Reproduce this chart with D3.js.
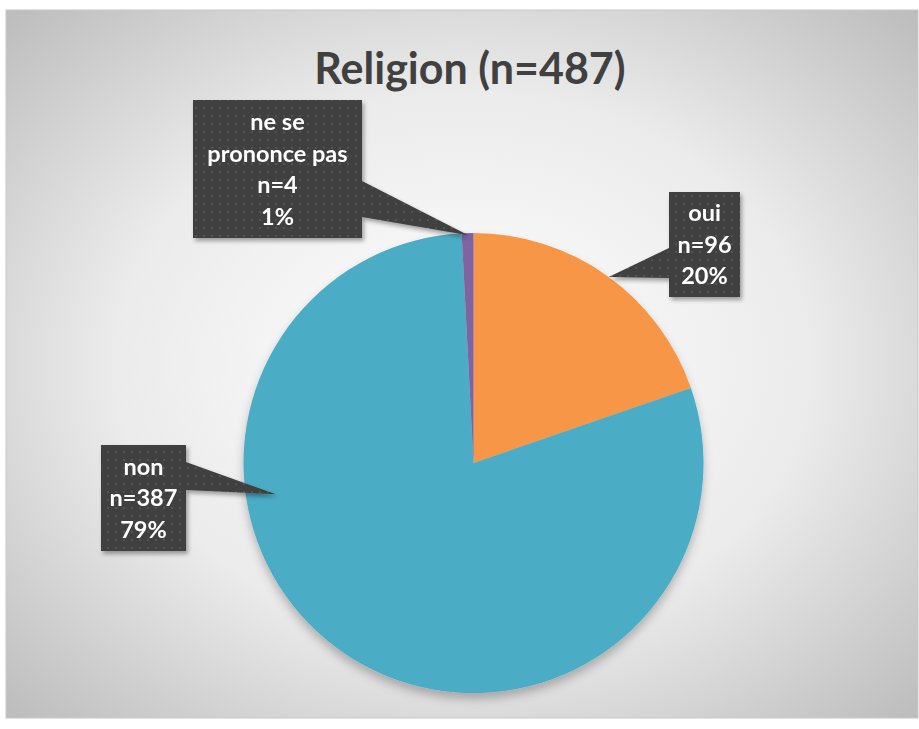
<!DOCTYPE html>
<html>
<head>
<meta charset="utf-8">
<script src="https://cdn.jsdelivr.net/npm/d3@7"></script>
<style>
  body { margin: 0; background: #fff; }
  svg { display: block; }
  text { font-family: Lato, "Open Sans", sans-serif; font-weight: bold; }
</style>
</head>
<body>
<svg width="919" height="729"></svg>
<script>
var title = "Religion (n=487)";
var categories = ["oui", "non", "ne se prononce pas"];
var counts = [96, 387, 4];
var percents = ["20%", "79%", "1%"];
var colors = ["#F79646", "#4BACC6", "#8064A2"];

// callout layout: box rect, pointer base on a box side, tip angle (deg) / radius fraction
var callouts = [
  { box: [669, 192, 71, 105], side: "left", base: [248, 278], tipAngle: 36, tipR: 1.0, lines: ["oui", "n=96", "20%"] },
  { box: [101, 445, 85, 106], side: "right", base: [462, 490], tipAngle: 261, tipR: 0.87, lines: ["non", "n=387", "79%"] },
  { box: [193, 100, 169, 138], side: "right", base: [181, 217], tipAngle: 358.7, tipR: 0.99, lines: ["ne se", "prononce pas", "n=4", "1%"] }
];

var svg = d3.select("svg"),
    width = +svg.attr("width"),
    height = +svg.attr("height");

var defs = svg.append("defs");

var bg = defs.append("radialGradient").attr("id", "bg")
    .attr("cx", "50%").attr("cy", "50%").attr("r", "70%");
bg.append("stop").attr("offset", "0%").attr("stop-color", "#ffffff");
bg.append("stop").attr("offset", "55%").attr("stop-color", "#ebebeb");
bg.append("stop").attr("offset", "100%").attr("stop-color", "#bdbdbd");

var pat = defs.append("pattern").attr("id", "dots")
    .attr("width", 8).attr("height", 8).attr("patternUnits", "userSpaceOnUse");
pat.append("rect").attr("width", 8).attr("height", 8).attr("fill", "#3f3f3f");
pat.append("rect").attr("x", 3).attr("y", 3).attr("width", 2).attr("height", 2).attr("fill", "#535353");

var shadow = defs.append("filter").attr("id", "shadow")
    .attr("x", "-20%").attr("y", "-20%").attr("width", "140%").attr("height", "150%");
shadow.append("feDropShadow").attr("dx", 0).attr("dy", 6).attr("stdDeviation", 5)
    .attr("flood-color", "#000").attr("flood-opacity", 0.25);

var boxShadow = defs.append("filter").attr("id", "boxShadow")
    .attr("x", "-20%").attr("y", "-20%").attr("width", "140%").attr("height", "140%");
boxShadow.append("feDropShadow").attr("dx", 2).attr("dy", 3).attr("stdDeviation", 2)
    .attr("flood-color", "#000").attr("flood-opacity", 0.35);

// chart area
svg.append("rect")
    .attr("x", 6).attr("y", 10)
    .attr("width", width - 7).attr("height", 708)
    .attr("fill", "url(#bg)")
    .attr("stroke", "#c8c8c8").attr("stroke-width", 1);

svg.append("text")
    .attr("x", 470).attr("y", 84)
    .attr("text-anchor", "middle")
    .attr("font-size", 43)
    .attr("font-weight", 900)
    .attr("fill", "#404040")
    .text(title);

var cx = 473.5, cy = 463, r = 230;

var pie = d3.pie().sort(null).value(function(d) { return d; });
var arcs = pie(counts);
var arc = d3.arc().innerRadius(0).outerRadius(r);

var g = svg.append("g").attr("transform", "translate(" + cx + "," + cy + ")");

g.append("g").attr("filter", "url(#shadow)")
    .selectAll("path")
    .data(arcs)
    .enter()
        .append("path")
        .attr("d", arc)
        .attr("fill", function(d, i) { return colors[i]; });

function tipPoint(c) {
    var a = c.tipAngle * Math.PI / 180;
    return [cx + Math.sin(a) * r * c.tipR, cy - Math.cos(a) * r * c.tipR];
}

var labels = svg.append("g")
    .selectAll(".callout")
    .data(callouts)
    .enter()
        .append("g")
        .attr("class", "callout")
        .attr("filter", "url(#boxShadow)");

labels.append("path")
    .attr("fill", "url(#dots)")
    .attr("d", function(c) {
        var b = c.box, t = tipPoint(c);
        var x0 = b[0], y0 = b[1], x1 = b[0] + b[2], y1 = b[1] + b[3];
        if (c.side == "right") {
            return "M" + x0 + "," + y0 + "L" + x1 + "," + y0 + "L" + x1 + "," + c.base[0] +
                "L" + t[0] + "," + t[1] + "L" + x1 + "," + c.base[1] +
                "L" + x1 + "," + y1 + "L" + x0 + "," + y1 + "Z";
        }
        return "M" + x0 + "," + y0 + "L" + x1 + "," + y0 + "L" + x1 + "," + y1 +
            "L" + x0 + "," + y1 + "L" + x0 + "," + c.base[1] +
            "L" + t[0] + "," + t[1] + "L" + x0 + "," + c.base[0] + "Z";
    });

labels.each(function(c) {
    var item = d3.select(this);
    var b = c.box, n = c.lines.length, step = 31.5;
    var top = b[1] + b[3] / 2 - (n - 1) * step / 2;
    item.selectAll("text")
        .data(c.lines)
        .enter()
            .append("text")
            .attr("x", b[0] + b[2] / 2)
            .attr("y", function(d, i) { return top + i * step; })
            .attr("dy", "0.36em")
            .attr("text-anchor", "middle")
            .attr("font-size", 23.5)
            .attr("fill", "#ffffff")
            .text(function(d) { return d; });
});
</script>
</body>
</html>
